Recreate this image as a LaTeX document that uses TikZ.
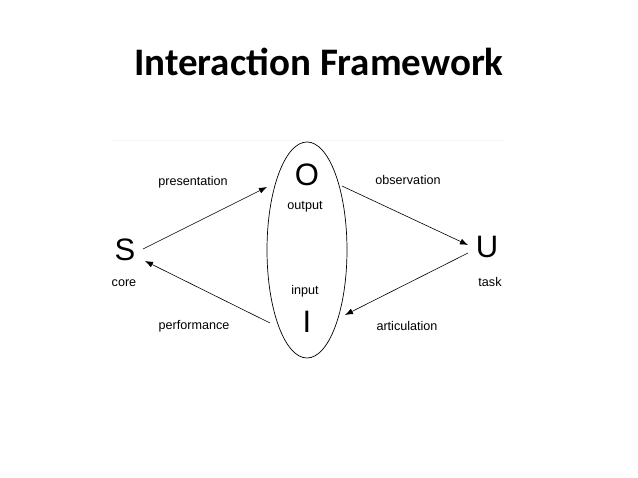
\documentclass[tikz,border=0pt]{standalone}
\usepackage{fontspec}
\setmainfont{Liberation Sans}
\newfontfamily\titlefont{Carlito}
\usetikzlibrary{positioning}
\usetikzlibrary{arrows.meta}

\tikzset{
  letter/.style={font=\fontsize{31}{31}\selectfont, inner sep=0pt},
  lbl/.style={font=\fontsize{12.6}{14}\selectfont, inner sep=1pt},
  flow/.style={-{Latex[length=8pt,width=6pt]}, line width=0.6pt}
}

\begin{document}
\begin{tikzpicture}[x=1pt, y=-1pt]
\useasboundingbox (0,0) rectangle (638,478);

% title
\node at (319,62) {\titlefont\bfseries\fontsize{39}{44}\selectfont Interaction Framework};

\draw[gray!8, line width=1pt] (112,141)--(505,141);

\draw[line width=0.7pt] (307,250) ellipse [x radius=40, y radius=108];

% nodes
\node[letter] (S) at (125,250) {S};
\node[letter] (U) at (487,247) {U};
\node[letter] (O) at (307,175) {O};
\node[letter] (I) at (307,322) {I};

\node[lbl] at (124,283) {core};
\node[lbl] at (490,282) {task};
\node[lbl] at (305,207) {output};
\node[lbl] at (305,291) {input};

\coordinate (sOut) at (143,249);
\coordinate (oIn) at (267,187);
\coordinate (oOut) at (342,186);
\coordinate (uIn) at (468,245);
\coordinate (uOut) at (468,253);
\coordinate (iIn) at (345,315);
\coordinate (iOut) at (270,323);
\coordinate (sIn) at (145,261);

\draw[flow] (sOut) -- (oIn);
\draw[flow] (oOut) -- (uIn);
\draw[flow] (uOut) -- (iIn);
\draw[flow] (iOut) -- (sIn);

\node[lbl] at (193,182) {presentation};
\node[lbl] at (408,180) {observation};
\node[lbl] at (194,326) {performance};
\node[lbl] at (407,326) {articulation};

\end{tikzpicture}
\end{document}
